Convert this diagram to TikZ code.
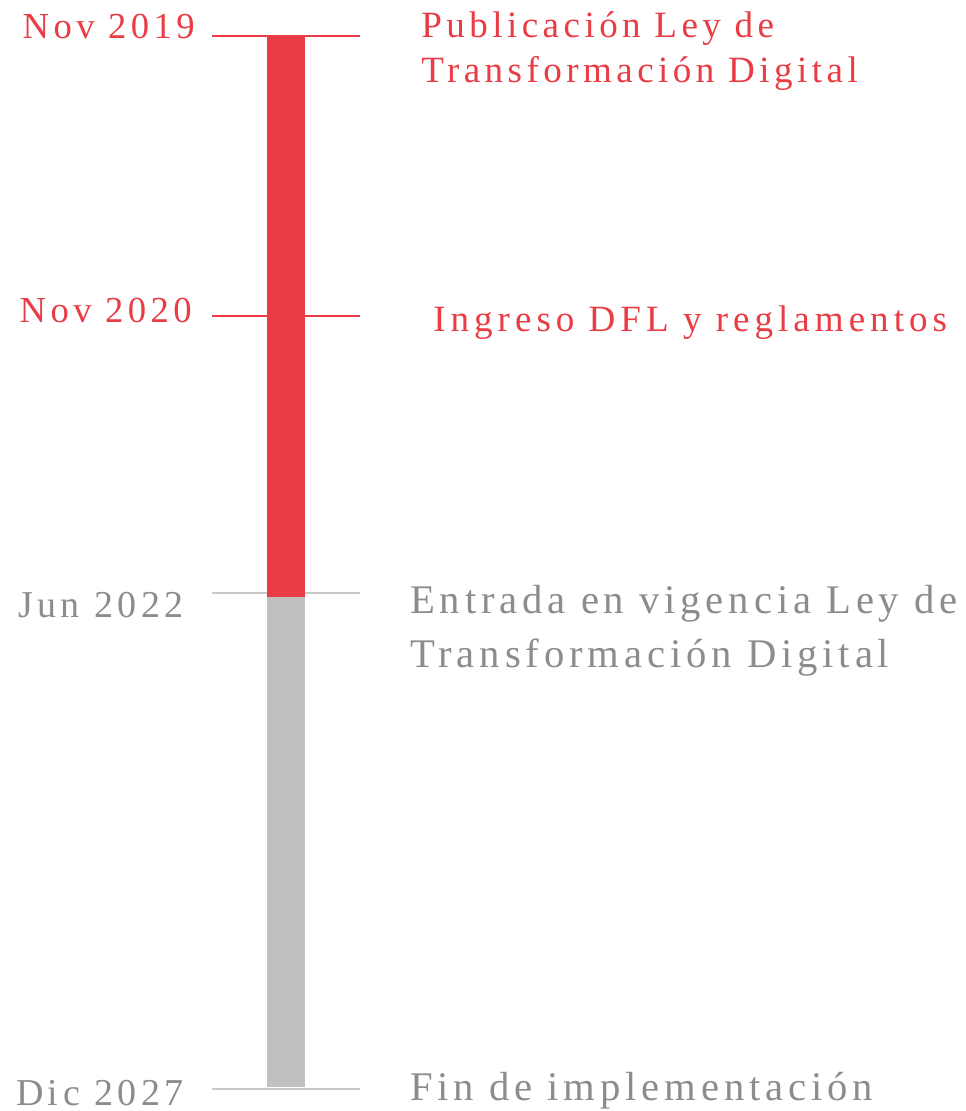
\documentclass[tikz,border=0pt]{standalone}
\usepackage{fontspec}
\setmainfont{Liberation Serif}
\definecolor{hitored}{HTML}{E93C45}
\definecolor{hitogray}{HTML}{8C8C8C}
\definecolor{bargray}{HTML}{C0C0C0}
\definecolor{tickgray}{HTML}{C8C8C8}
\newfontfamily\spacedfont[LetterSpace=12]{Liberation Serif}
\newfontfamily\widefont[LetterSpace=13.5]{Liberation Serif}
\tikzset{
  datered/.style={anchor=base east, inner sep=0pt, text=hitored, font=\spacedfont\fontsize{27.5}{34}\selectfont},
  dategray/.style={anchor=base east, inner sep=0pt, text=hitogray, font=\spacedfont\fontsize{28.5}{36}\selectfont},
  eventred/.style={anchor=base west, inner sep=0pt, text=hitored, font=\spacedfont\fontsize{27.8}{34}\selectfont},
  eventgray/.style={anchor=base west, inner sep=0pt, text=hitogray, font=\spacedfont\fontsize{30.5}{40}\selectfont},
  tickred/.style={draw=hitored, line width=1.1pt},
  tickgray/.style={draw=tickgray, line width=1.1pt}
}
\begin{document}
\begin{tikzpicture}[x=0.75pt, y=-0.75pt]
\useasboundingbox (0,0) rectangle (965,1111);
% ticks
\coordinate (t1a) at (212,36);   \coordinate (t1b) at (360,36);
\coordinate (t2a) at (212,316);  \coordinate (t2b) at (360,316);
\coordinate (t3a) at (212,593);  \coordinate (t3b) at (360,593);
\coordinate (t4a) at (212,1089); \coordinate (t4b) at (360,1089);
\draw[tickred] (t1a) -- (t1b);
\draw[tickred] (t2a) -- (t2b);
\draw[tickgray] (t3a) -- (t3b);
\draw[tickgray] (t4a) -- (t4b);
% bar
\fill[bargray] (267,596) rectangle (305,1087);
\fill[hitored] (267,36) rectangle (305,597);
% dates
\node (d1) at (195,38) [datered] {Nov 2019};
\node (d2) at (192,322) [datered] {Nov 2020};
\node (d3) at (184,617) [dategray] {Jun 2022};
\node (d4) at (184,1105) [dategray] {Dic 2027};
% events
\node (e1a) at (421,37) [eventred] {Publicación Ley de};
\node (e1b) at (421,82) [eventred] {Transformación Digital};
\node (e2) at (433,331) [eventred, font=\widefont\fontsize{27.8}{34}\selectfont] {Ingreso DFL y reglamentos};
\node (e3a) at (410,613) [eventgray] {Entrada en vigencia Ley de};
\node (e3b) at (410,667) [eventgray] {Transformación Digital};
\node (e4) at (410,1100) [eventgray] {Fin de implementación};
\end{tikzpicture}
\end{document}
